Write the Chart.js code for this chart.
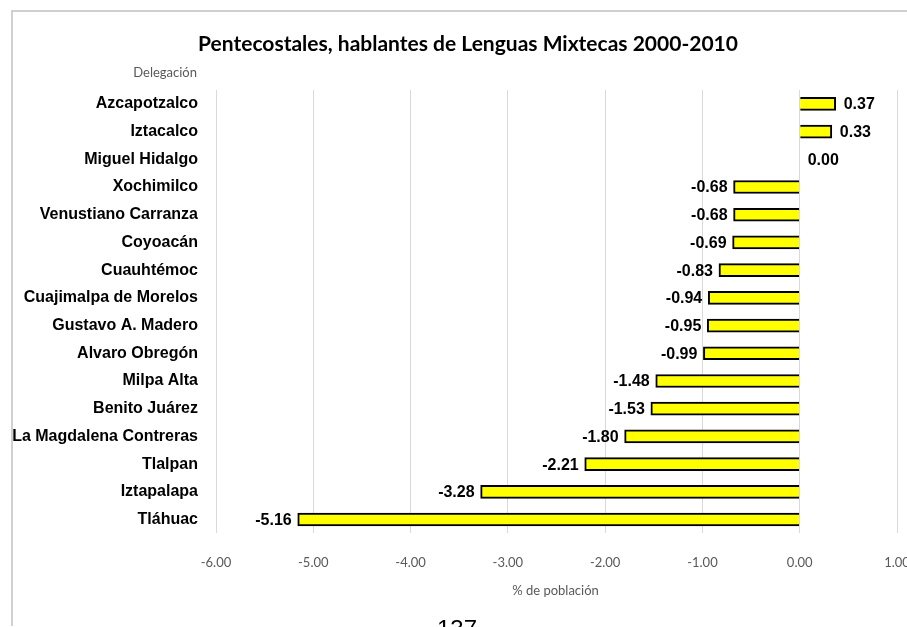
<!DOCTYPE html>
<html>
<head>
<meta charset="utf-8">
<script src="https://cdn.jsdelivr.net/npm/chart.js@4/dist/chart.umd.min.js"></script>
<style>
  html, body { margin: 0; padding: 0; background: #fff; overflow: hidden; }
  #wrap { position: relative; width: 940px; height: 627px; }
</style>
</head>
<body>
<div id="wrap"><canvas id="chart1" width="940" height="627"></canvas></div>
<script>
// Datos: delegaciones y variación porcentual
const titulo = 'Pentecostales, hablantes de Lenguas Mixtecas 2000-2010';
const delegaciones = ['Azcapotzalco', 'Iztacalco', 'Miguel Hidalgo', 'Xochimilco', 'Venustiano Carranza',
  'Coyoacán', 'Cuauhtémoc', 'Cuajimalpa de Morelos', 'Gustavo A. Madero', 'Alvaro Obregón',
  'Milpa Alta', 'Benito Juárez', 'La Magdalena Contreras', 'Tlalpan', 'Iztapalapa', 'Tláhuac'];
const valores = [0.37, 0.33, 0.00, -0.68, -0.68, -0.69, -0.83, -0.94, -0.95, -0.99,
  -1.48, -1.53, -1.80, -2.21, -3.28, -5.16];
const ticksX = [-6, -5, -4, -3, -2, -1, 0, 1];

const fuenteEtiqueta = "bold 16px 'Liberation Sans', Arial";
const fuenteGris = "13px Lato, 'Open Sans', sans-serif";

// Plugin para etiquetas de datos, borde y textos extra
const extras = {
  id: 'extras',
  beforeDraw(chart) {
    const c = chart.ctx;
    c.save();
    c.strokeStyle = '#d0d0d0';
    c.lineWidth = 2;
    c.beginPath();
    c.moveTo(12, 626);
    c.lineTo(12, 11);
    c.lineTo(chart.width, 11);
    c.stroke();
    // título
    c.font = "bold 21px Lato, 'Open Sans', sans-serif";
    c.fillStyle = '#000';
    c.textAlign = 'center';
    c.textBaseline = 'middle';
    c.fillText(titulo, 468, 44);
    c.restore();
  },
  afterDatasetsDraw(chart) {
    const c = chart.ctx;
    const meta = chart.getDatasetMeta(0);
    const area = chart.chartArea;
    c.save();
    c.font = fuenteEtiqueta;
    c.fillStyle = '#000';
    c.textBaseline = 'middle';
    meta.data.forEach((bar, i) => {
      const v = valores[i];
      const txt = v.toFixed(2);
      if (v < 0) {
        c.textAlign = 'right';
        c.fillText(txt, bar.x - 6, bar.y + 1);
      } else {
        c.textAlign = 'left';
        c.fillText(txt, bar.x + 8, bar.y + 1);
      }
    });
    // título del eje y (arriba)
    const ys = chart.scales.y;
    c.font = fuenteGris;
    c.fillStyle = '#595959';
    c.textAlign = 'right';
    c.fillText('Delegación', ys.right - 19, 73);
    // título del eje x
    c.textAlign = 'center';
    c.fillText('% de población', (area.left + area.right) / 2 - 1, 591);
    // número de página
    c.font = "24px 'Liberation Sans', Arial";
    c.fillStyle = '#000';
    c.fillText('137', 457, 630);
    c.restore();
  }
};

const ctx = document.getElementById('chart1').getContext('2d');
new Chart(ctx, {
  type: 'bar',
  data: {
    labels: delegaciones,
    datasets: [{
      data: valores,
      backgroundColor: '#ffff00',
      borderColor: '#000000',
      borderWidth: 2,
      borderSkipped: 'start',
      barThickness: 13
    }]
  },
  plugins: [extras],
  options: {
    indexAxis: 'y',
    responsive: false,
    animation: false,
    devicePixelRatio: 1,
    layout: { padding: { left: 12, right: 43, top: 90, bottom: 34 } },
    plugins: {
      legend: { display: false },
      tooltip: { enabled: false },
      title: { display: false }
    },
    scales: {
      x: {
        min: -6,
        max: 1,
        afterBuildTicks: axis => { axis.ticks = ticksX.map(v => ({ value: v })); },
        grid: { color: '#d9d9d9', lineWidth: 1, drawTicks: false },
        border: { display: false },
        ticks: {
          padding: 22,
          color: '#595959',
          font: { family: "Lato, 'Open Sans', sans-serif", size: 13 },
          callback: v => Number(v).toFixed(2)
        }
      },
      y: {
        grid: { display: false, drawTicks: false },
        border: { display: false },
        afterFit: axis => { axis.width = 204; },
        ticks: {
          padding: 18,
          color: '#000',
          font: { family: "'Liberation Sans', Arial", size: 16, weight: 'bold' }
        }
      }
    }
  }
});
</script>
</body>
</html>
